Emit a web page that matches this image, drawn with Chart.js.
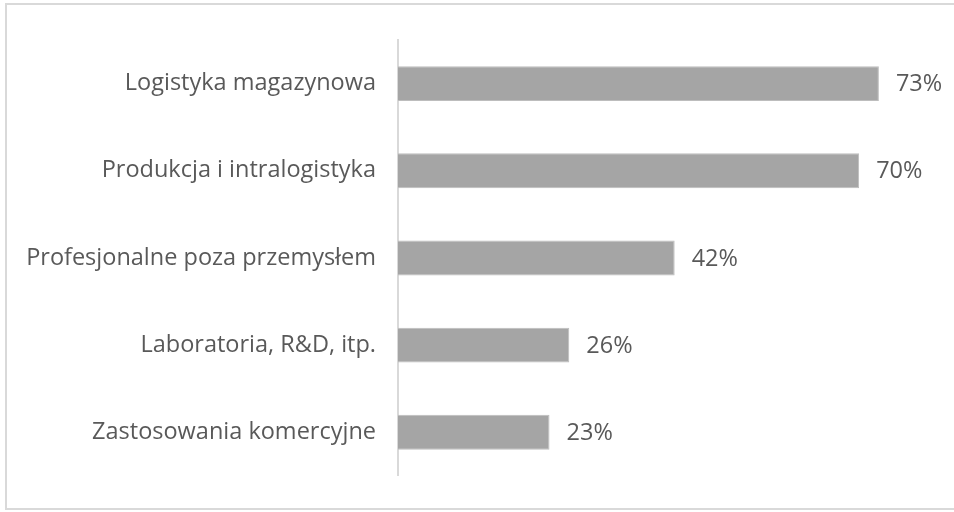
<!DOCTYPE html>
<html>
<head>
<meta charset="utf-8">
<script src="https://cdn.jsdelivr.net/npm/chart.js@4/dist/chart.umd.min.js"></script>
<style>
  html, body { margin: 0; padding: 0; background: #fff; }
  #wrap { width: 954px; height: 512px; }
</style>
</head>
<body>
<div id="wrap"><canvas id="c" width="954" height="512"></canvas></div>
<script>
const categories = [
  'Logistyka magazynowa',
  'Produkcja i intralogistyka',
  'Profesjonalne poza przemysłem',
  'Laboratoria, R&D, itp.',
  'Zastosowania komercyjne'
];
const shares = [73, 70, 42, 26, 23];

const FONT = "'Open Sans', 'Noto Sans', sans-serif";
const TEXT = '#595959';

// frame around the figure (top, left and bottom edges)
const framePlugin = {
  id: 'frame',
  beforeDraw(chart) {
    const ctx = chart.ctx;
    ctx.save();
    ctx.strokeStyle = '#d9d9d9';
    ctx.lineWidth = 2;
    ctx.beginPath();
    ctx.moveTo(954, 4);
    ctx.lineTo(6, 4);
    ctx.lineTo(6, 509);
    ctx.lineTo(954, 509);
    ctx.stroke();
    ctx.restore();
  }
};

// percentage labels just past the end of each bar
const valueLabels = {
  id: 'valueLabels',
  afterDatasetsDraw(chart) {
    const ctx = chart.ctx;
    const meta = chart.getDatasetMeta(0);
    ctx.save();
    ctx.font = `23.5px ${FONT}`;
    ctx.fillStyle = TEXT;
    ctx.textAlign = 'left';
    ctx.textBaseline = 'middle';
    meta.data.forEach((bar, i) => {
      ctx.fillText(shares[i] + '%', bar.x + 17, bar.y + 1);
    });
    ctx.restore();
  }
};

new Chart(document.getElementById('c'), {
  type: 'bar',
  data: {
    labels: categories,
    datasets: [{
      data: shares,
      backgroundColor: '#a5a5a5',
      borderColor: '#bdbdbd',
      borderWidth: 1,
      categoryPercentage: 1,
      barPercentage: 0.4
    }]
  },
  options: {
    indexAxis: 'y',
    responsive: false,
    animation: false,
    layout: { padding: { left: 0, right: 29, top: 40, bottom: 35 } },
    plugins: { legend: { display: false }, tooltip: { enabled: false } },
    scales: {
      x: {
        display: false,
        min: 0,
        max: 80
      },
      y: {
        afterFit(scale) { scale.width = 398; },
        grid: { display: false, drawTicks: false },
        border: { display: true, color: '#d9d9d9', width: 2 },
        ticks: {
          color: TEXT,
          padding: 22,
          font: { family: FONT, size: 23.5 }
        }
      }
    }
  },
  plugins: [framePlugin, valueLabels]
});
</script>
</body>
</html>
